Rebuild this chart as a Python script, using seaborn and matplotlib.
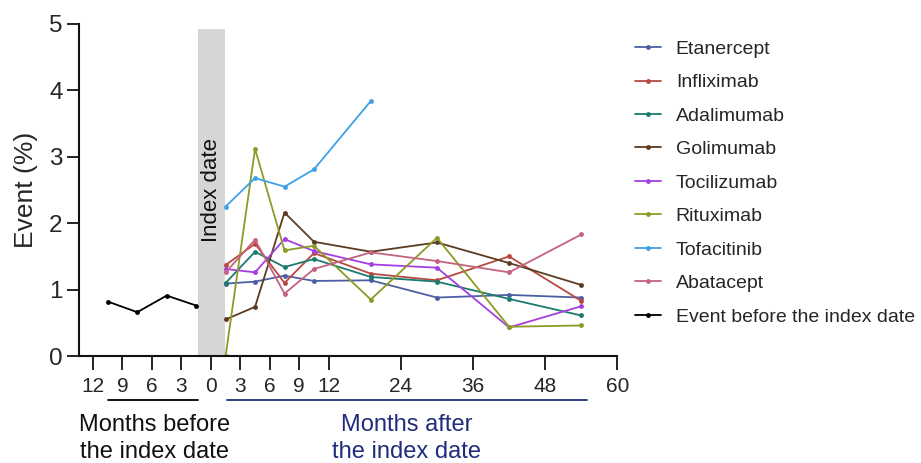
import numpy as np
import pandas as pd
import matplotlib
matplotlib.use("Agg")
import matplotlib.pyplot as plt
import matplotlib.transforms as mtransforms
import seaborn as sns

# month positions (negative = before the index date)
months_before = [-10.5, -7.5, -4.5, -1.5]
months_after = [1.5, 4.5, 7.5, 10.5, 19, 30, 42, 54]

event_before = [0.82, 0.66, 0.91, 0.76]

etanercept = [1.09, 1.12, 1.21, 1.13, 1.14, 0.88, 0.92, 0.88]
infliximab = [1.37, 1.69, 1.10, 1.55, 1.24, 1.14, 1.50, 0.83]
adalimumab = [1.10, 1.57, 1.34, 1.46, 1.19, 1.12, 0.86, 0.61]
golimumab = [0.55, 0.74, 2.16, 1.72, 1.57, 1.71, 1.40, 1.07]
tocilizumab = [1.31, 1.26, 1.76, 1.58, 1.38, 1.33, 0.43, 0.75]
rituximab = [0.0, 3.12, 1.59, 1.66, 0.85, 1.78, 0.44, 0.46]
tofacitinib = [2.25, 2.68, 2.55, 2.81, 3.84]
abatacept = [1.26, 1.75, 0.94, 1.31, 1.56, 1.43, 1.26, 1.83]

drugs = ["Etanercept", "Infliximab", "Adalimumab", "Golimumab", "Tocilizumab",
         "Rituximab", "Tofacitinib", "Abatacept"]
drug_values = [etanercept, infliximab, adalimumab, golimumab, tocilizumab,
               rituximab, tofacitinib, abatacept]
colors = ["#4d5fa3", "#b8493f", "#1d7a6f", "#5b3b22", "#a53fe0",
          "#8c9b25", "#3ea0e6", "#c2637f"]
before_label = "Event before the index date"

tick_pos = [-12, -9, -6, -3, 0, 3, 6, 9, 12, 24, 36, 48, 60]
tick_labels = ["12", "9", "6", "3", "0", "3", "6", "9", "12", "24", "36", "48", "60"]

# build a long table
rows = []
for name, vals in zip(drugs, drug_values):
    for m, v in zip(months_after, vals):
        rows.append((name, m, v))
for m, v in zip(months_before, event_before):
    rows.append((before_label, m, v))
df = pd.DataFrame(rows, columns=["series", "month", "event"])

sns.set_style("ticks")
plt.rcParams["font.family"] = ["Liberation Sans", "DejaVu Sans"]

fig = plt.figure(figsize=(9.21, 4.63), dpi=100)
ax = fig.add_axes([0.0861, 0.2311, 0.5842, 0.7171])

palette = dict(zip(drugs, colors))
palette[before_label] = "black"

sns.lineplot(data=df, x="month", y="event", hue="series",
             hue_order=drugs + [before_label], palette=palette,
             marker="o", markersize=3.5, markeredgewidth=0,
             linewidth=1.3, ax=ax, legend=True)

# compressed scale after 12 months
r = 0.6125
fwd = lambda x: np.where(x <= 12, x, 12 + (x - 12) * r)
inv = lambda u: np.where(u <= 12, u, 12 + (u - 12) / r)
ax.set_xscale("function", functions=(fwd, inv))
ax.set_xlim(-13.4, 60)
ax.set_ylim(0, 5)

# index date band
ax.axvspan(-1.35, 1.42, ymin=0, ymax=0.984, color="#d6d6d6", lw=0, zorder=0)
ax.text(0.05, 2.5, "Index date", rotation=90, ha="center", va="center",
        fontsize=16, color="#111111")

ax.set_xticks(tick_pos)
ax.set_xticklabels(tick_labels)
ax.set_yticks([0, 1, 2, 3, 4, 5])
ax.tick_params(axis="x", labelsize=15, length=10, width=1.3, pad=5, color="#111111")
ax.tick_params(axis="y", labelsize=17.5, length=9, width=1.3, pad=3, color="#111111")
ax.set_xlabel("")
ax.set_ylabel("Event (%)", fontsize=19, labelpad=8)
sns.despine(ax=ax)
for s in ["left", "bottom"]:
    ax.spines[s].set_linewidth(1.5)
    ax.spines[s].set_color("#111111")

# brackets under the axis
trans = mtransforms.blended_transform_factory(ax.transData, ax.transAxes)
ax.plot([-10.5, -1.3], [-0.1325, -0.1325], color="black", lw=1.3,
        transform=trans, clip_on=False)
ax.plot([1.65, 55], [-0.1325, -0.1325], color="#1f2d7a", lw=1.3,
        transform=trans, clip_on=False)
ax.text(-5.7, -0.175, "Months before\nthe index date", transform=trans,
        ha="center", va="top", fontsize=17, color="#111111", linespacing=1.3)
ax.text(24.9, -0.175, "Months after\nthe index date", transform=trans,
        ha="center", va="top", fontsize=17, color="#1f2d7a", linespacing=1.3)

handles, labels = ax.get_legend_handles_labels()
ax.legend(handles, labels, loc="upper left", bbox_to_anchor=(0.689, 0.913),
          bbox_transform=fig.transFigure, frameon=False, fontsize=14,
          handlelength=1.37, handletextpad=0.75, labelspacing=0.815,
          borderpad=0, borderaxespad=0)

fig.savefig("out.png", dpi=100)
